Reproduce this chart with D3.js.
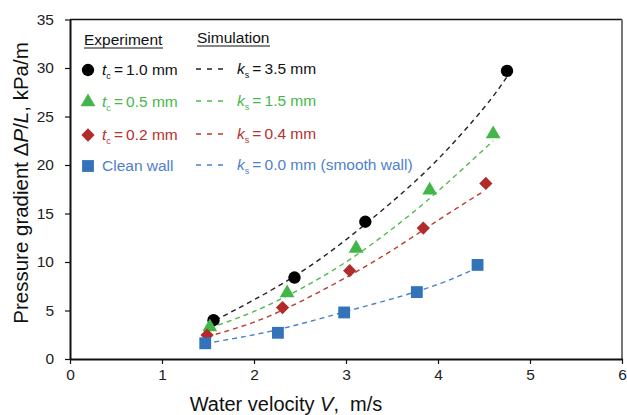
<!DOCTYPE html>
<html>
<head>
<meta charset="utf-8">
<script src="https://cdn.jsdelivr.net/npm/d3@7"></script>
<style>
  body { margin: 0; background: #fff; }
  svg text { font-family: "Liberation Sans", Arial, sans-serif; }
</style>
</head>
<body>
<div id="chart"></div>
<script>
// axis ticks
var xTicks = [0, 1, 2, 3, 4, 5, 6];
var yTicks = [0, 5, 10, 15, 20, 25, 30, 35];

// experiment points (V in m/s, dP/L in kPa/m)
var expBlackV = [1.56, 2.44, 3.21, 4.75];
var expBlackP = [4.0, 8.4, 14.15, 29.7];
var expGreenV = [1.52, 2.36, 3.11, 3.91, 4.60];
var expGreenP = [3.3, 6.8, 11.4, 17.4, 23.2];
var expRedV = [1.49, 2.31, 3.04, 3.84, 4.52];
var expRedP = [2.47, 5.3, 9.1, 13.5, 18.1];
var expBlueV = [1.47, 2.26, 2.98, 3.77, 4.43];
var expBlueP = [1.62, 2.7, 4.8, 6.9, 9.7];

// simulation curves
var simBlackV = [1.58, 2.0, 2.5, 3.0, 3.5, 4.0, 4.5, 4.75];
var simBlackP = [4.0, 6.1, 8.9, 12.3, 16.2, 20.6, 25.9, 29.1];
var simGreenV = [1.52, 2.0, 2.5, 3.0, 3.5, 4.0, 4.6];
var simGreenP = [3.2, 4.9, 7.2, 10.0, 13.4, 17.3, 22.5];
var simRedV = [1.49, 2.0, 2.5, 3.0, 3.5, 4.0, 4.48];
var simRedP = [2.3, 3.8, 5.9, 8.4, 11.2, 14.3, 17.2];
var simBlueV = [1.47, 2.0, 2.5, 3.0, 3.5, 4.0, 4.43];
var simBlueP = [1.6, 2.5, 3.6, 4.9, 6.2, 7.7, 9.4];

var series = [
  {v: expBlackV, p: expBlackP, sv: simBlackV, sp: simBlackP, mark: "circle",
   fill: "#000", line: "#222", text: "#111", tc: "1.0", ks: "3.5 mm"},
  {v: expGreenV, p: expGreenP, sv: simGreenV, sp: simGreenP, mark: "triangle",
   fill: "#43b649", line: "#4cbb4c", text: "#45b84a", tc: "0.5", ks: "1.5 mm"},
  {v: expRedV, p: expRedP, sv: simRedV, sp: simRedP, mark: "diamond",
   fill: "#b22b2b", line: "#c0392f", text: "#b8302c", tc: "0.2", ks: "0.4 mm"},
  {v: expBlueV, p: expBlueP, sv: simBlueV, sp: simBlueP, mark: "square",
   fill: "#3473ba", line: "#4f80cc", text: "#4f7fcb", tc: null, ks: "0.0 mm (smooth wall)"}
];

var width = 627, height = 415;
var margin = {top: 19.5, right: 5, bottom: 56, left: 70};
var w = width - margin.left - margin.right,
    h = height - margin.top - margin.bottom;

var svg = d3.select("#chart").append("svg")
  .attr("width", width)
  .attr("height", height);

var chart = svg.append("g")
  .attr("transform", "translate(" + margin.left + "," + margin.top + ")");

var x = d3.scaleLinear().domain([0, 6]).range([0, w]);
var y = d3.scaleLinear().domain([0, 35]).range([h, 0]);

// frame: top black, right grey
chart.append("line")
  .attr("x1", 0).attr("x2", w).attr("y1", 0).attr("y2", 0)
  .attr("stroke", "#111").attr("stroke-width", 1.5);
chart.append("line")
  .attr("x1", w).attr("x2", w).attr("y1", 0).attr("y2", h)
  .attr("stroke", "#777").attr("stroke-width", 2);

// axes
var gx = chart.append("g")
  .attr("transform", "translate(0," + h + ")")
  .call(d3.axisBottom(x).tickValues(xTicks).tickFormat(d3.format("d"))
    .tickSize(5).tickSizeOuter(0).tickPadding(5));
var gy = chart.append("g")
  .call(d3.axisLeft(y).tickValues(yTicks).tickFormat(d3.format("d"))
    .tickSize(5).tickSizeOuter(0).tickPadding(11));

[gx, gy].forEach(function(g) {
  g.select(".domain").attr("stroke", "#111").attr("stroke-width", 2);
  g.selectAll(".tick line").attr("stroke", "#111").attr("stroke-width", 1.2);
  g.selectAll(".tick text")
    .attr("font-size", 15.5)
    .attr("fill", "#222")
    .style("font-family", "'Liberation Sans', Arial, sans-serif");
});

// simulation curves
var line = d3.line()
  .x(function(d) { return x(d[0]); })
  .y(function(d) { return y(d[1]); })
  .curve(d3.curveNatural);

series.forEach(function(s) {
  chart.append("path")
    .datum(s.sv.map(function(v, i) { return [v, s.sp[i]]; }))
    .attr("d", line)
    .attr("fill", "none")
    .attr("stroke", s.line)
    .attr("stroke-width", 1.4)
    .attr("stroke-dasharray", "5,4");
});

function markerPath(kind) {
  if (kind === "circle") return d3.symbol(d3.symbolCircle, 120)();
  if (kind === "triangle") return d3.symbol(d3.symbolTriangle, 95)();
  if (kind === "diamond") return d3.symbol(d3.symbolSquare, 88)();
  return d3.symbol(d3.symbolSquare, 140)();
}

function drawMarker(g, kind, color, cx, cy) {
  g.append("path")
    .attr("d", markerPath(kind))
    .attr("fill", color)
    .attr("transform", "translate(" + cx + "," + cy + ")" + (kind === "diamond" ? " rotate(45)" : ""));
}

// experiment points
series.forEach(function(s) {
  s.v.forEach(function(v, i) {
    drawMarker(chart, s.mark, s.fill, x(v), y(s.p[i]));
  });
});

// legend
var legend = svg.append("g");
legend.append("text").attr("x", 84).attr("y", 45)
  .attr("font-size", 15.5).attr("fill", "#111").text("Experiment");
legend.append("line").attr("x1", 84).attr("x2", 163).attr("y1", 48).attr("y2", 48)
  .attr("stroke", "#111").attr("stroke-width", 1);
legend.append("text").attr("x", 197).attr("y", 43)
  .attr("font-size", 15.5).attr("fill", "#111").text("Simulation");
legend.append("line").attr("x1", 197).attr("x2", 270).attr("y1", 46).attr("y2", 46)
  .attr("stroke", "#111").attr("stroke-width", 1);

var rowY = [70, 102, 135, 166];
series.forEach(function(s, i) {
  var cy = rowY[i];
  drawMarker(legend, s.mark, s.fill, 88, cy);

  var t = legend.append("text").attr("x", 102).attr("y", cy + 5)
    .attr("font-size", 15.5).attr("fill", s.text);
  if (s.tc) {
    t.append("tspan").attr("font-style", "italic").text("t");
    t.append("tspan").attr("font-size", 9).attr("dy", 4).text("c");
    t.append("tspan").attr("dy", -4).text("\u2009=\u2009" + s.tc + " mm");
  } else {
    t.text("Clean wall");
  }

  legend.append("line")
    .attr("x1", 196).attr("x2", 224).attr("y1", cy - 1).attr("y2", cy - 1)
    .attr("stroke", s.line).attr("stroke-width", 1.4)
    .attr("stroke-dasharray", "5,6");

  var k = legend.append("text").attr("x", 237).attr("y", cy + 4)
    .attr("font-size", 15.5).attr("fill", s.text);
  k.append("tspan").attr("font-style", "italic").text("k");
  k.append("tspan").attr("font-size", 9).attr("dy", 4).text("s");
  k.append("tspan").attr("dy", -4).text("\u2009=\u2009" + s.ks);
});

// axis titles
var xt = svg.append("text")
  .attr("x", 286).attr("y", 411)
  .attr("text-anchor", "middle")
  .attr("font-size", 20).attr("fill", "#111");
xt.append("tspan").text("Water velocity ");
xt.append("tspan").attr("font-style", "italic").text("V");
xt.append("tspan").text(",\u00a0\u00a0m/s");

var yt = svg.append("text")
  .attr("transform", "translate(28,183) rotate(-90)")
  .attr("text-anchor", "middle")
  .attr("font-size", 20.5).attr("fill", "#111");
yt.append("tspan").text("Pressure gradient \u0394");
yt.append("tspan").attr("font-style", "italic").text("P");
yt.append("tspan").text("/");
yt.append("tspan").attr("font-style", "italic").text("L");
yt.append("tspan").text(", kPa/m");
</script>
</body>
</html>
